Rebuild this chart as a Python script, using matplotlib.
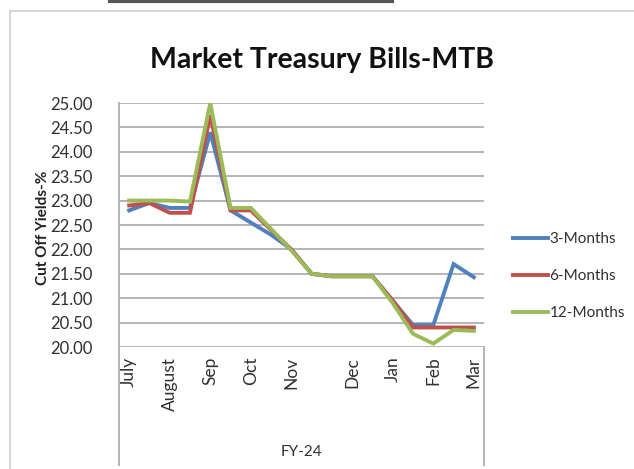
import matplotlib
matplotlib.use("Agg")
import matplotlib.pyplot as plt
from matplotlib.lines import Line2D

# ---- data ----
categories = ["July", "", "August", "", "Sep", "", "Oct", "", "Nov", "",
              "", "Dec", "", "Jan", "", "Feb", "", "Mar"]
series_names = ["3-Months", "6-Months", "12-Months"]
three_months = [22.80, 22.95, 22.85, 22.85, 24.40, 22.80, 22.55, 22.30, 22.00,
                21.50, 21.45, 21.45, 21.45, 20.95, 20.45, 20.45, 21.70, 21.43]
six_months = [22.90, 22.95, 22.75, 22.75, 24.75, 22.80, 22.80, 22.40, 22.00,
              21.50, 21.45, 21.45, 21.45, 20.95, 20.40, 20.40, 20.40, 20.40]
twelve_months = [23.00, 23.00, 23.00, 22.98, 25.00, 22.85, 22.85, 22.42, 21.98,
                 21.50, 21.45, 21.45, 21.45, 20.90, 20.27, 20.07, 20.35, 20.33]
yticks = [20.00, 20.50, 21.00, 21.50, 22.00, 22.50, 23.00, 23.50, 24.00, 24.50, 25.00]
group_label = "FY-24"
title = "Market Treasury Bills-MTB"
ylabel = "Cut Off Yields-%"

colors = ["#4F81BD", "#C0504D", "#9BBB59"]

W, H = 634, 469
fig = plt.figure(figsize=(W / 100, H / 100), dpi=100)
fig.patch.set_facecolor("white")

def fx(px):
    return px / W

def fy(py):
    return 1 - py / H

# decorations: top dark bar and chart-area border
fig.add_artist(Line2D([fx(110), fx(392)], [fy(1.5), fy(1.5)], color="#555555", lw=3))
fig.add_artist(Line2D([fx(10), fx(634)], [fy(11), fy(11)], color="#D0D0D0", lw=1.2))
fig.add_artist(Line2D([fx(10), fx(10)], [fy(11), fy(469)], color="#D0D0D0", lw=1.2))

left, right, top, bottom = 119, 484, 103, 347
ax = fig.add_axes([fx(left), fy(bottom), fx(right - left), (bottom - top) / H])
x = list(range(len(categories)))
for vals, c in zip([three_months, six_months, twelve_months], colors):
    ax.plot(x, vals, color=c, lw=2.8, solid_joinstyle="miter", zorder=3)

ax.set_xlim(-0.5, len(categories) - 0.5)
ax.set_ylim(20, 25)
ax.set_yticks(yticks)
ax.set_yticklabels([f"{v:.2f}" for v in yticks], fontsize=12, color="#303030",
                   family="Lato")
ax.yaxis.grid(True, color="#B4B4B4", lw=1.4)
ax.set_axisbelow(True)
ax.tick_params(axis="y", length=0, pad=19)
ax.tick_params(axis="x", length=0, pad=7)
ax.set_xticks(x)
ax.set_xticklabels(categories, rotation=90, fontsize=12.5, color="#303030",
                   family="Lato", va="top")
for s in ["top", "right", "bottom"]:
    ax.spines[s].set_visible(False)
ax.spines["left"].set_color("#B4B4B4")
ax.spines["left"].set_linewidth(1.4)

# multi-level category axis frame lines
fig.add_artist(Line2D([fx(left), fx(left)], [fy(bottom), fy(465)], color="#B4B4B4", lw=1.4))
fig.add_artist(Line2D([fx(right), fx(right)], [fy(bottom), fy(465)], color="#B4B4B4", lw=1.4))
fig.text(fx((left + right) / 2), fy(452), group_label, ha="center", va="center",
         fontsize=11, color="#303030", family="Lato")

fig.text(fx(322), fy(60), title, ha="center", va="center", fontsize=20.5,
         fontweight="bold", family="Lato", color="#111111")
fig.text(fx(43), fy(228), ylabel, ha="center", va="center", rotation=90,
         fontsize=11, fontweight="bold", family="Lato", color="#222222")

handles = [Line2D([], [], color=c, lw=2.8) for c in colors]
fig.legend(handles, series_names, loc="center left",
           bbox_to_anchor=(fx(499), fy(276)), frameon=False,
           handlelength=2.3, handletextpad=0.1, labelspacing=1.5,
           prop={"family": "Lato", "size": 11}, labelcolor="#303030")

fig.savefig("out.png", dpi=100, facecolor="white")
